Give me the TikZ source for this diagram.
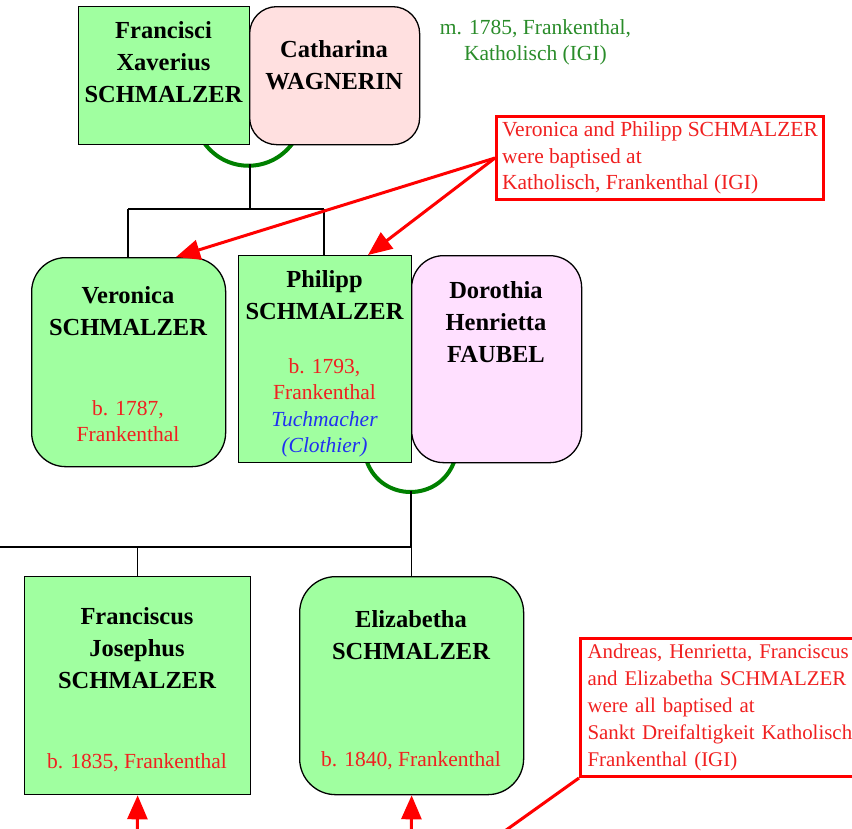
\documentclass[tikz,border=0pt]{standalone}
\usepackage{fontspec}
\setmainfont{Liberation Serif}
\usetikzlibrary{arrows.meta}
\definecolor{boxgreen}{HTML}{A0FFA0}
\definecolor{boxpink}{HTML}{FFE0E0}
\definecolor{boxlav}{HTML}{FFE0FF}
\definecolor{mgreen}{HTML}{008000}
\definecolor{tgreen}{HTML}{2A8C2A}
\definecolor{tred}{HTML}{F02020}
\definecolor{tblue}{HTML}{2030F0}
\definecolor{nred}{HTML}{FF0000}
\begin{document}
\begin{tikzpicture}[x=1pt,y=-1pt,
  person/.style={draw=black, line width=1.3pt, inner sep=0pt, anchor=north west},
  male/.style={person, fill=boxgreen},
  fem/.style={person, fill=boxgreen, rounded corners=34pt},
  spouse/.style={person, rounded corners=32pt},
  nametext/.style={anchor=north, inner sep=0pt, align=center, font=\fontsize{24.5}{32}\selectfont\bfseries},
  infotext/.style={anchor=north, inner sep=0pt, align=center, text=tred, font=\fontsize{21.5}{26.5}\selectfont},
  link/.style={draw=black, line width=1.2pt},
  marriage/.style={draw=mgreen, line width=4pt},
  note/.style={draw=nred, line width=3pt, anchor=north west, inner sep=0pt, text=tred, align=left, font=\fontsize{21.5}{26.5}\selectfont},
  noteline/.style={draw=nred, line width=3pt},
  notearrow/.style={noteline, -{Triangle[length=24pt,width=20pt]}},
]
\useasboundingbox (0,0) rectangle (852,828);
\clip (0,0) rectangle (852,828);

% marriage arcs (behind boxes)
\coordinate (m1l) at (205,144);
\coordinate (m1r) at (292,144);
\coordinate (m1) at (250,164);
\draw[marriage] (m1l) .. controls (227,173) and (270,173) .. (m1r);
\coordinate (m2l) at (367,462);
\coordinate (m2r) at (454,462);
\coordinate (m2) at (411,491);
\draw[marriage] (m2l) .. controls (382,502) and (439,502) .. (m2r);

% generation 1
\node[male, minimum width=171pt, minimum height=138pt] (fx) at (78,6) {};
\node[spouse, fill=boxpink, rounded corners=27pt, minimum width=170pt, minimum height=138pt] (cw) at (249,6) {};
\node[nametext] (fxt) at (163.5,21) {Francisci\\Xaverius\\SCHMALZER};
\node[nametext] (cwt) at (334,40) {Catharina\\WAGNERIN};
\node[anchor=north, inner sep=0pt, align=center, text=tgreen, font=\fontsize{21.5}{26.5}\selectfont] (mar1) at (535.5,19) {m. 1785, Frankenthal,\\Katholisch (IGI)};

% generation 2
\node[fem, minimum width=194pt, minimum height=209pt] (ve) at (31,257) {};
\node[male, minimum width=173pt, minimum height=207pt] (ph) at (238,255) {};
\node[spouse, fill=boxlav, minimum width=170pt, minimum height=207pt] (df) at (411,255) {};
\node[nametext] (vet) at (128,286) {Veronica\\SCHMALZER};
\node[infotext] (vei) at (128,400) {b. 1787,\\Frankenthal};
\node[nametext] (pht) at (324.5,270) {Philipp\\SCHMALZER};
\node[infotext] (phi) at (324.5,358) {b. 1793,\\Frankenthal\\\textcolor{tblue}{\itshape Tuchmacher}\\\textcolor{tblue}{\itshape (Clothier)}};
\node[nametext] (dft) at (496,281) {Dorothia\\Henrietta\\FAUBEL};

% generation 3
\node[male, minimum width=226pt, minimum height=218pt] (fj) at (24,576) {};
\node[fem, rounded corners=36pt, minimum width=224pt, minimum height=218pt] (el) at (299,576) {};
\node[nametext] (fjt) at (137,607) {Franciscus\\Josephus\\SCHMALZER};
\node[infotext] (fji) at (137,753) {b. 1835, Frankenthal};
\node[nametext] (elt) at (411,610) {Elizabetha\\SCHMALZER};
\node[infotext] (eli) at (411,751) {b. 1840, Frankenthal};

% descent lines
\coordinate (j1) at (250,209);
\coordinate (j1l) at (128,209);
\coordinate (j1r) at (324,209);
\draw[link] (m1) -- (j1);
\draw[link] (j1l) -- (j1r);
\draw[link] (j1l) -- (j1l |- ve.north);
\draw[link] (j1r) -- (j1r |- ph.north);
\coordinate (j2) at (411,547);
\coordinate (j2l) at (-10,547);
\draw[link] (m2) -- (j2);
\draw[link] (j2l) -- (j2);
\draw[link] (fj.north |- j2) -- (fj.north);
\draw[link] (el.north |- j2) -- (el.north);

% notes
\node[note, minimum width=327pt, minimum height=83pt] (n1) at (495,115)
  {Veronica and Philipp SCHMALZER\\were baptised at\\Katholisch, Frankenthal (IGI)};
\coordinate (vtip) at (176,257);
\coordinate (ptip) at (368,255);
\draw[notearrow] (n1.west) -- (vtip);
\draw[notearrow] (n1.west) -- (ptip);

\node[note, font=\fontsize{20.9}{27}\selectfont, minimum width=340pt, minimum height=138pt, text width=330pt, inner xsep=7pt] (n2) at (579,637)
  {Andreas, Henrietta, Franciscus\\and Elizabetha SCHMALZER\\were all baptised at\\Sankt Dreifaltigkeit Katholisch\\Frankenthal (IGI)};
\coordinate (n2end) at (481,848);
\draw[noteline] (n2.south west) -- (n2end);
\coordinate (fjsrc) at (137,860);
\coordinate (elsrc) at (411,860);
\draw[notearrow] (fjsrc) -- (fj.south);
\draw[notearrow] (elsrc) -- (el.south);
\end{tikzpicture}
\end{document}
